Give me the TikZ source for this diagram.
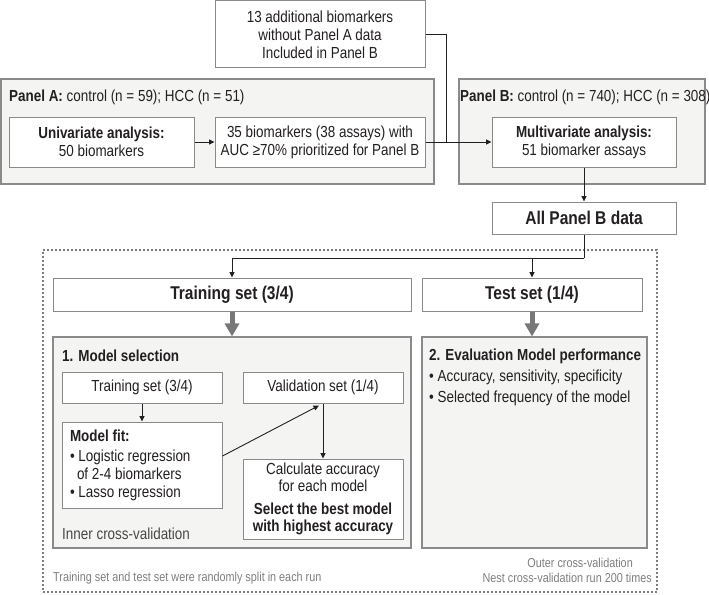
\documentclass[tikz,border=0pt]{standalone}
\usepackage{fontspec}
\setmainfont{Liberation Sans}[FakeStretch=0.84]
\usetikzlibrary{arrows.meta,calc}
\definecolor{bordergray}{HTML}{8A8A8A}
\definecolor{panelfill}{HTML}{F4F5F3}
\definecolor{txt}{HTML}{231F20}
\definecolor{foot}{HTML}{7F7F7F}
\definecolor{innertxt}{HTML}{474747}
\definecolor{bigarrow}{HTML}{777777}
\definecolor{linecol}{HTML}{231F20}
\tikzset{
  panel/.style={draw=bordergray, fill=panelfill, line width=1.1pt, inner sep=0pt},
  wbox/.style={draw=bordergray, fill=white, line width=1pt, inner sep=0pt, align=center, text=txt,
    font=\fontsize{16}{18}\selectfont},
  lbl/.style={inner sep=0pt, text=txt, font=\fontsize{16}{18}\selectfont, align=left},
  bigtxt/.style={font=\fontsize{18.5}{20}\selectfont\bfseries},
  footnote/.style={inner sep=0pt, text=foot, font=\fontsize{12.9}{15}\selectfont},
  conn/.style={draw=linecol, line width=0.9pt, -{Triangle[length=5.5pt,width=5pt]}},
  plain/.style={draw=linecol, line width=0.9pt},
  fat/.style={draw=bigarrow, line width=5pt, -{Triangle[length=13pt,width=14pt]}},
}
\begin{document}
\begin{tikzpicture}[x=1pt,y=-1pt]
\useasboundingbox[fill=white] (0,0) rectangle (709,594);

% outer dashed frame
\node[draw=bordergray!90!black, line width=1.2pt, dash pattern=on 2pt off 2pt, minimum width=614pt, minimum height=342pt, inner sep=0pt] (outer) at (350,421) {};

% top box
\node[wbox, minimum width=210pt, minimum height=67pt] (top) at (320,34.5)
  {13 additional biomarkers\\without Panel A data\\Included in Panel B};

% Panel A
\node[panel, minimum width=433pt, minimum height=105pt] (panelA) at (217.5,131.5) {};
\node[lbl, anchor=west] (labA) at (9,97) {\textbf{Panel A:} control (n = 59); HCC (n = 51)};
\node[wbox, minimum width=185pt, minimum height=50pt] (univ) at (101.5,142)
  {\textbf{Univariate analysis:}\\50 biomarkers};
\node[wbox, minimum width=210pt, minimum height=50pt] (n35) at (320,142)
  {35 biomarkers (38 assays) with\\AUC ≥70\% prioritized for Panel B};

% Panel B
\node[panel, minimum width=246pt, minimum height=105pt] (panelB) at (582,131.5) {};
\node[lbl, anchor=west] (labB) at (460,97) {\textbf{Panel B:} control (n = 740); HCC (n = 308)};
\node[wbox, minimum width=184pt, minimum height=50pt] (multi) at (584,142)
  {\textbf{Multivariate analysis:}\\51 biomarker assays};

\node[wbox, bigtxt, minimum width=184pt, minimum height=32pt] (all) at (584,218) {All Panel B data};

% training / test
\node[wbox, bigtxt, minimum width=358pt, minimum height=33pt] (train) at (232,294.5) {Training set (3/4)};
\node[wbox, bigtxt, minimum width=220pt, minimum height=33pt] (test) at (532,294.5) {Test set (1/4)};

\node[panel, minimum width=358pt, minimum height=211pt] (msel) at (232,442.5) {};
\node[panel, minimum width=225pt, minimum height=211pt] (eval) at (534.5,442.5) {};

\node[lbl, anchor=west, font=\fontsize{16}{18}\selectfont\bfseries] (mselt) at (62,356) {1. Model selection};
\node[lbl, anchor=west, font=\fontsize{16}{18}\selectfont\bfseries] (evalt) at (429,356) {2. Evaluation Model performance};
\node[lbl, anchor=west] (evb1) at (429,377) {• Accuracy, sensitivity, specificity};
\node[lbl, anchor=west] (evb2) at (429,398) {• Selected frequency of the model};

\node[wbox, minimum width=160pt, minimum height=31pt] (itrain) at (142,387.5) {Training set (3/4)};
\node[wbox, minimum width=160pt, minimum height=31pt] (val) at (323,387.5) {Validation set (1/4)};
\node[wbox, minimum width=160pt, minimum height=86pt, align=flush left, text width=160pt] (mfit) at (142,465)
  {\hspace*{8pt}\textbf{Model fit:}\\[2pt]
   \hspace*{8pt}• Logistic regression\\
   \hspace*{15pt}of 2-4 biomarkers\\
   \hspace*{8pt}• Lasso regression};
\node[wbox, minimum width=160pt, minimum height=80pt, font=\fontsize{16}{17}\selectfont] (calc) at (323,499)
  {Calculate accuracy\\for each model\\[6pt]\textbf{Select the best model}\\\textbf{with highest accuracy}};
\node[lbl, anchor=west, text=innertxt] (inner) at (62,534) {Inner cross-validation};

% footnotes
\node[footnote, anchor=east] (outerf) at (633,563) {Outer cross-validation};
\node[footnote, anchor=east] (nest) at (652,578) {Nest cross-validation run 200 times};
\node[footnote, anchor=west] (split) at (53,578) {Training set and test set were randomly split in each run};

% connectors
\draw[conn] (univ.east) -- (n35.west);
\coordinate (jn) at (446,142);
\draw[plain] (top.east) -| (jn);
\draw[conn] (n35.east) -- (multi.west);
\draw[conn] (multi.south) -- (all.north);
\coordinate (sp) at (584,258);
\draw[plain] (all.south) -- (sp);
\draw[conn] (sp) -| (train.north);
\draw[conn] (sp -| test.north) -- (test.north);
\draw[fat] (train.south) -- (msel.north);
\draw[fat] (test.south) -- (test.south |- eval.north);
\draw[conn] (itrain.south) -- (mfit.north);
\draw[conn] ([yshift=9pt]mfit.east) -- ([xshift=-4pt,yshift=-2pt]val.south);
\draw[conn] (val.south) -- (calc.north);
\end{tikzpicture}
\end{document}
